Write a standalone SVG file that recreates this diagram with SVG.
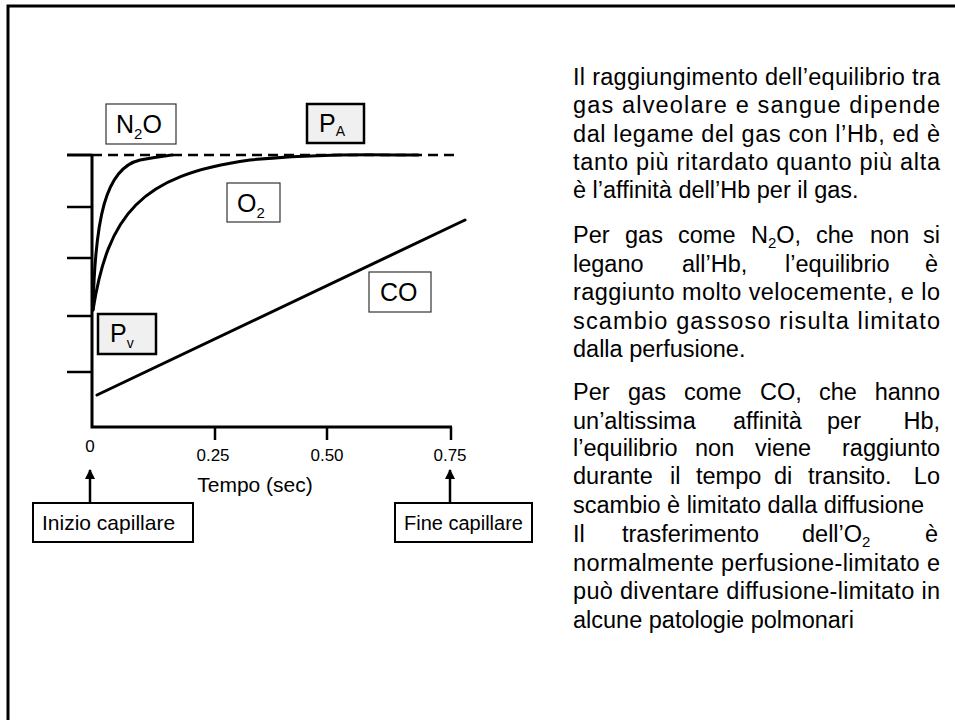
<svg xmlns="http://www.w3.org/2000/svg" width="955" height="720" viewBox="0 0 955 720">
<defs>
<marker id="ah" viewBox="0 0 10 10" refX="9" refY="5" markerWidth="10" markerHeight="10" markerUnits="userSpaceOnUse" orient="auto">
<path d="M0,0 L10,5 L0,10 z" fill="#000"/>
</marker>
<style>
text{font-family:"Liberation Sans",Arial,sans-serif;fill:#000}
.p{font-size:23.5px}
.ax{font-size:17px}
.lbl{font-size:25px}
.box{font-size:21px}
.sub{font-size:15px}
.thin{fill:#fff;stroke:#333;stroke-width:1.2}
.grey{fill:#f0f0f0;stroke:#000;stroke-width:2.5}
.wbox{fill:#fff;stroke:#000;stroke-width:2}
.crv{fill:none;stroke:#000;stroke-width:3;stroke-linecap:round}
.axis{fill:none;stroke:#000;stroke-width:3}
.tick{stroke:#000;stroke-width:2.5}
</style>
</defs>
<rect width="955" height="720" fill="#fff"/>
<rect x="8" y="6" width="1000" height="800" fill="none" stroke="#000" stroke-width="3"/>

<g id="axes">
<path class="axis" d="M92 155 V427 H452"/>
<line class="tick" x1="67" y1="155" x2="92" y2="155" style="stroke-width:3"/>
<line class="tick" x1="67" y1="207" x2="92" y2="207"/>
<line class="tick" x1="67" y1="258" x2="92" y2="258"/>
<line class="tick" x1="67" y1="316" x2="92" y2="316"/>
<line class="tick" x1="67" y1="372" x2="92" y2="372"/>
<line class="tick" x1="215" y1="427" x2="215" y2="440"/>
<line class="tick" x1="327" y1="427" x2="327" y2="440"/>
<line class="tick" x1="451" y1="427" x2="451" y2="440"/>
<text class="ax" x="90" y="452" text-anchor="middle">0</text>
<text class="ax" x="213" y="461" text-anchor="middle">0.25</text>
<text class="ax" x="327" y="461" text-anchor="middle">0.50</text>
<text class="ax" x="450" y="461" text-anchor="middle">0.75</text>
<text class="box" x="255" y="492" text-anchor="middle">Tempo (sec)</text>
</g>

<g id="connectors">
<line x1="92" y1="155" x2="455" y2="155" stroke="#000" stroke-width="2.5" stroke-dasharray="10 6"/>
<path id="curve-n2o" class="crv" d="M93 310 C95 220,105 168,140 160 C155 157,165 156,172 155"/>
<path id="curve-o2" class="crv" d="M93 310 C108 215,140 175,250 160 C320 153,380 155,418 155"/>
<line id="line-co" class="crv" x1="97" y1="395" x2="465" y2="220"/>
<line x1="90" y1="503" x2="90" y2="470" stroke="#000" stroke-width="2.5" marker-end="url(#ah)"/>
<line x1="450" y1="503" x2="450" y2="470" stroke="#000" stroke-width="2.5" marker-end="url(#ah)"/>
</g>

<g id="n2o">
<rect class="thin" x="106" y="104" width="70" height="40"/>
<text class="lbl" x="116" y="133">N<tspan class="sub" dy="6">2</tspan><tspan dy="-6">O</tspan></text>
</g>
<g id="pa">
<rect class="grey" x="307" y="104" width="57" height="39"/>
<text class="lbl" x="319" y="132">P<tspan style="font-size:14px" dy="4">A</tspan></text>
</g>
<g id="o2">
<rect class="thin" x="227" y="183" width="53" height="39"/>
<text class="lbl" x="237" y="212">O<tspan class="sub" dy="6">2</tspan></text>
</g>
<g id="co">
<rect class="thin" x="369" y="272" width="62" height="40"/>
<text class="lbl" x="380" y="301">CO</text>
</g>
<g id="pv">
<rect class="grey" x="98" y="314" width="58" height="40"/>
<text class="lbl" x="110" y="342">P<tspan style="font-size:14px" dy="6">v</tspan></text>
</g>
<g id="inizio">
<rect class="wbox" x="33" y="503" width="160" height="39"/>
<text class="box" x="42" y="530">Inizio capillare</text>
</g>
<g id="fine">
<rect class="wbox" x="395" y="503" width="137" height="39"/>
<text class="box" x="404" y="530" style="font-size:20px">Fine capillare</text>
</g>

<g id="testo">
<text class="p" x="573" y="85" textLength="367" lengthAdjust="spacing">Il raggiungimento dell’equilibrio tra</text>
<text class="p" x="573" y="113" textLength="367" lengthAdjust="spacing">gas alveolare e sangue dipende</text>
<text class="p" x="573" y="142" textLength="367" lengthAdjust="spacing">dal legame del gas con l’Hb, ed è</text>
<text class="p" x="573" y="170" textLength="367" lengthAdjust="spacing">tanto più ritardato quanto più alta</text>
<text class="p" x="573" y="198">è l’affinità dell’Hb per il gas.</text>

<text class="p" y="243"><tspan x="573">Per</tspan><tspan x="625">gas</tspan><tspan x="678">come</tspan><tspan x="751">N</tspan><tspan class="sub" dy="5">2</tspan><tspan dy="-5">O,</tspan><tspan x="816">che</tspan><tspan x="870">non</tspan><tspan x="940" text-anchor="end">si</tspan></text>
<text class="p" y="272"><tspan x="573">legano</tspan><tspan x="682">all’Hb,</tspan><tspan x="785">l’equilibrio</tspan><tspan x="938" text-anchor="end">è</tspan></text>
<text class="p" x="573" y="300" textLength="367" lengthAdjust="spacing">raggiunto molto velocemente, e lo</text>
<text class="p" x="573" y="328.5" textLength="367" lengthAdjust="spacing">scambio gassoso risulta limitato</text>
<text class="p" x="573" y="357">dalla perfusione.</text>

<text class="p" y="400"><tspan x="573">Per</tspan><tspan x="628">gas</tspan><tspan x="684">come</tspan><tspan x="760">CO,</tspan><tspan x="819">che</tspan><tspan x="940" text-anchor="end">hanno</tspan></text>
<text class="p" y="428.5"><tspan x="573">un’altissima</tspan><tspan x="733">affinità</tspan><tspan x="827">per</tspan><tspan x="940" text-anchor="end">Hb,</tspan></text>
<text class="p" y="456"><tspan x="573">l’equilibrio</tspan><tspan x="695">non</tspan><tspan x="755">viene</tspan><tspan x="940" text-anchor="end">raggiunto</tspan></text>
<text class="p" y="484"><tspan x="573">durante</tspan><tspan x="670">il</tspan><tspan x="696">tempo</tspan><tspan x="774">di</tspan><tspan x="808">transito.</tspan><tspan x="940" text-anchor="end">Lo</tspan></text>
<text class="p" x="573" y="512.5">scambio è limitato dalla diffusione</text>

<text class="p" y="542"><tspan x="573">Il</tspan><tspan x="622">trasferimento</tspan><tspan x="802">dell’O</tspan><tspan class="sub" dy="5">2</tspan><tspan x="938" dy="-5" text-anchor="end">è</tspan></text>
<text class="p" x="573" y="570.5" textLength="367" lengthAdjust="spacing">normalmente perfusione-limitato e</text>
<text class="p" x="573" y="599" textLength="367" lengthAdjust="spacing">può diventare diffusione-limitato in</text>
<text class="p" x="573" y="627.5">alcune patologie polmonari</text>
</g>
</svg>
